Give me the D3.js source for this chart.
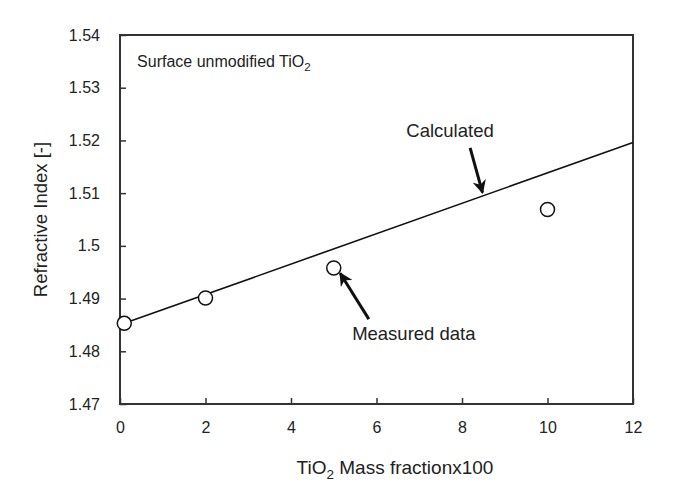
<!DOCTYPE html>
<html><head><meta charset="utf-8">
<script src="https://cdn.jsdelivr.net/npm/d3@7"></script>
<style>body{margin:0;background:#fff;}svg{display:block;font-family:"Liberation Sans",Arial,sans-serif;}</style>
</head><body><svg id="c" width="678" height="493"></svg>
<script>
const measuredX = [0.1, 2, 5, 10];
const measuredY = [1.4853, 1.4901, 1.4958, 1.5069];
const calcX = [0.1, 12];
const calcY = [1.4853, 1.5196];
const xTicks = [0, 2, 4, 6, 8, 10, 12];
const yTicks = [1.47, 1.48, 1.49, 1.50, 1.51, 1.52, 1.53, 1.54];
const yTickLabels = ["1.47", "1.48", "1.49", "1.5", "1.51", "1.52", "1.53", "1.54"];

const svg = d3.select("#c");
const m = {l: 120, r: 45, t: 35, b: 89};
const W = 678, H = 493;
const x = d3.scaleLinear().domain([0, 12]).range([m.l, W - m.r]);
const y = d3.scaleLinear().domain([1.47, 1.54]).range([H - m.b, m.t]);
const col = "#333";

// frame
svg.append("rect").attr("x", x(0)).attr("y", y(1.54)).attr("width", x(12) - x(0)).attr("height", y(1.47) - y(1.54))
  .attr("fill", "none").attr("stroke", col).attr("stroke-width", 2);

const xAxis = svg.append("g").attr("transform", `translate(0,${y(1.47)})`)
  .call(d3.axisBottom(x).tickValues(xTicks).tickSize(-6).tickPadding(18).tickFormat(d3.format("d")));
const yAxis = svg.append("g").attr("transform", `translate(${x(0)},0)`)
  .call(d3.axisLeft(y).tickValues(yTicks).tickSize(-6).tickPadding(20).tickFormat((d, i) => yTickLabels[i]));
[xAxis, yAxis].forEach(a => {
  a.select(".domain").remove();
  a.selectAll(".tick line").attr("stroke", col).attr("stroke-width", 1.5);
  a.selectAll(".tick text").attr("fill", "#222").style("font-size", "16px").style("font-family", "Liberation Sans, Arial, sans-serif");
});

// calculated line
svg.append("path").datum(calcX.map((d, i) => [d, calcY[i]]))
  .attr("d", d3.line().x(d => x(d[0])).y(d => y(d[1])))
  .attr("fill", "none").attr("stroke", "#111").attr("stroke-width", 1.6);

// measured points
svg.selectAll("circle.pt").data(measuredX.map((d, i) => [d, measuredY[i]])).join("circle")
  .attr("class", "pt").attr("cx", d => x(d[0])).attr("cy", d => y(d[1])).attr("r", 7)
  .attr("fill", "#fff").attr("stroke", "#111").attr("stroke-width", 1.5);

// arrows
const defs = svg.append("defs");
defs.append("marker").attr("id", "ah").attr("viewBox", "0 0 10 10").attr("refX", 9).attr("refY", 5)
  .attr("markerWidth", 4.5).attr("markerHeight", 4.5).attr("orient", "auto").attr("markerUnits", "strokeWidth")
  .append("path").attr("d", "M0,0 L10,5 L0,10 L3,5 Z").attr("fill", "#111");

const arrows = [
  {from: [8.19, 1.5186], to: [8.48, 1.5101]},
  {from: [5.82, 1.4861], to: [5.15, 1.4948]}
];
svg.selectAll("line.arr").data(arrows).join("line").attr("class", "arr")
  .attr("x1", d => x(d.from[0])).attr("y1", d => y(d.from[1]))
  .attr("x2", d => x(d.to[0])).attr("y2", d => y(d.to[1]))
  .attr("stroke", "#111").attr("stroke-width", 3).attr("marker-end", "url(#ah)");

// labels
svg.append("text").attr("x", x(7.72)).attr("y", y(1.5206)).attr("text-anchor", "middle")
  .style("font-size", "18.5px").attr("fill", "#222").text("Calculated");
svg.append("text").attr("x", x(5.43)).attr("y", y(1.4821)).attr("text-anchor", "start")
  .style("font-size", "18.5px").attr("fill", "#222").text("Measured data");

const st = svg.append("text").attr("x", x(0.4)).attr("y", y(1.5339)).style("font-size", "16px").attr("fill", "#222");
st.append("tspan").text("Surface unmodified TiO");
st.append("tspan").attr("dy", 4).style("font-size", "11.5px").text("2");

// axis titles
const xt = svg.append("text").attr("x", 395).attr("y", 474).attr("text-anchor", "middle").style("font-size", "19px").attr("fill", "#222");
xt.append("tspan").text("TiO");
xt.append("tspan").attr("dy", 5).style("font-size", "13.5px").text("2");
xt.append("tspan").attr("dy", -5).text(" Mass fractionx100");

svg.append("text").attr("transform", `translate(47,${(y(1.47) + y(1.54)) / 2}) rotate(-90)`)
  .attr("text-anchor", "middle").style("font-size", "18.5px").attr("fill", "#222").text("Refractive Index [-]");
</script></body></html>
